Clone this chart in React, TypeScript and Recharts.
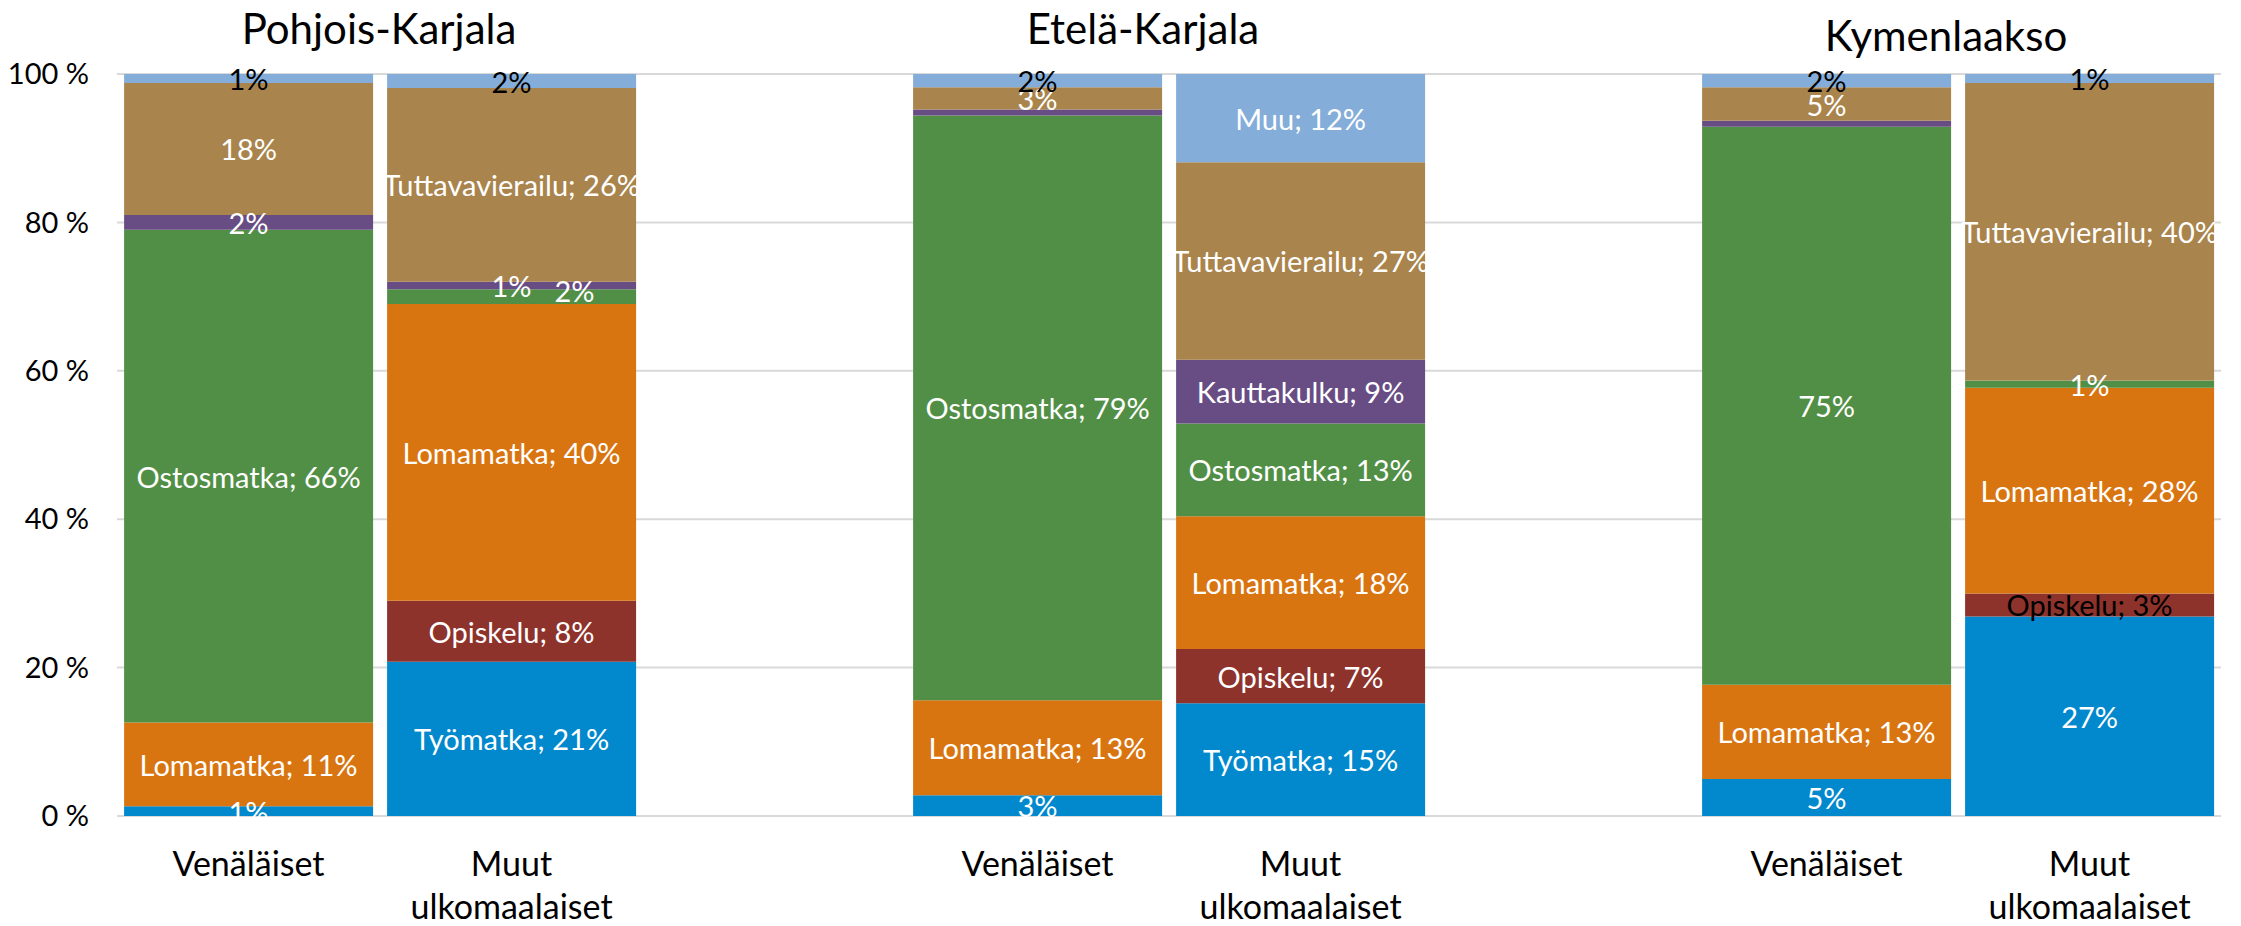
import { BarChart, Bar, XAxis, YAxis, CartesianGrid, LabelList } from 'recharts';

// category slots: two bars per region, an empty slot between regions
const categories = [
  'Venäläiset', 'Muut ulkomaalaiset', '',
  'Venäläiset', 'Muut ulkomaalaiset', '',
  'Venäläiset', 'Muut ulkomaalaiset',
];
const regions = ['Pohjois-Karjala', 'Etelä-Karjala', 'Kymenlaakso'];

const seriesNames = ['Työmatka', 'Opiskelu', 'Lomamatka', 'Ostosmatka', 'Kauttakulku', 'Tuttavavierailu', 'Muu'];

// shares in %
const tyomatka = [1.3, 20.8, 0, 2.8, 15.2, 0, 5.0, 26.9];
const opiskelu = [0, 8.2, 0, 0, 7.3, 0, 0, 3.1];
const lomamatka = [11.3, 40.0, 0, 12.8, 17.9, 0, 12.7, 27.7];
const ostosmatka = [66.4, 2.0, 0, 78.8, 12.5, 0, 75.2, 1.0];
const kauttakulku = [2.0, 1.0, 0, 0.8, 8.6, 0, 0.8, 0];
const tuttavavierailu = [17.8, 26.1, 0, 3.0, 26.6, 0, 4.5, 40.1];
const muu = [1.2, 1.9, 0, 1.8, 11.9, 0, 1.8, 1.2];

// label kind per cell: 'n' = name; value, 'v' = value only, '' = none
const tyomatkaLbl = ['v', 'n', '', 'v', 'n', '', 'v', 'v'];
const opiskeluLbl = ['', 'n', '', '', 'n', '', '', 'n'];
const lomamatkaLbl = ['n', 'n', '', 'n', 'n', '', 'n', 'n'];
const ostosmatkaLbl = ['n', 'v', '', 'n', 'n', '', 'v', 'v'];
const kauttakulkuLbl = ['v', 'v', '', '', 'n', '', '', ''];
const tuttavaLbl = ['v', 'n', '', 'v', 'n', '', 'v', 'n'];
const muuLbl = ['v', 'v', '', 'v', 'n', '', 'v', 'v'];

const yTicks = [0, 20, 40, 60, 80, 100];

const seriesValues = [tyomatka, opiskelu, lomamatka, ostosmatka, kauttakulku, tuttavavierailu, muu];
const seriesLabels = [tyomatkaLbl, opiskeluLbl, lomamatkaLbl, ostosmatkaLbl, kauttakulkuLbl, tuttavaLbl, muuLbl];
const colors = ['#0288CC', '#8E322C', '#D97511', '#528F46', '#684C84', '#A9844C', '#84ADD9'];
const keys = ['s0', 's1', 's2', 's3', 's4', 's5', 's6'];

const data = categories.map((name, i) => {
  const row: any = { name, idx: i };
  seriesValues.forEach((vals, s) => { row[keys[s]] = vals[i]; });
  return row;
});

const FONT = 'Lato, "Open Sans", sans-serif';

const isDark = (s: number, i: number) => (s === 6 && i !== 4) || (s === 1 && i === 7);
const labelShift: Record<string, [number, number]> = { '3-1': [63, -6] };

const makeLabel = (s: number) => (props: any) => {
  const { x, y, width, height, value } = props;
  const index = Number(value);
  const kind = seriesLabels[s][index];
  if (!kind) return null;
  const v = Math.round(seriesValues[s][index]);
  const text = kind === 'n' ? `${seriesNames[s]}; ${v}%` : `${v}%`;
  const [dx, dy] = labelShift[`${s}-${index}`] ?? [0, 0];
  return (
    <text
      x={Number(x) + Number(width) / 2 + dx}
      y={Number(y) + Number(height) / 2 + dy}
      textAnchor="middle"
      dominantBaseline="central"
      fill={isDark(s, index) ? '#000000' : '#ffffff'}
      fontSize={29}
      fontFamily={FONT}
    >
      {text}
    </text>
  );
};

const CategoryTick = (props: any) => {
  const { x, y, payload } = props;
  const value: string = payload.value || '';
  if (!value) return null;
  const lines = value.startsWith('Muut') ? ['Muut', 'ulkomaalaiset'] : [value];
  return (
    <text x={x} y={y} textAnchor="middle" fontSize={34} fontFamily={FONT} fill="#000000">
      {lines.map((l, i) => (
        <tspan key={i} x={x} dy={i === 0 ? 52 : 43}>{l}</tspan>
      ))}
    </text>
  );
};

const titlePos = [
  { x: 379, y: 44 },
  { x: 1143, y: 44 },
  { x: 1946, y: 51 },
];

export default function App() {
  return (
    <div style={{ position: 'absolute', left: 0, top: 0, width: 2241, height: 926, background: '#fff' }}>
      <BarChart
        width={2241}
        height={926}
        data={data}
        margin={{ top: 74, right: 20, bottom: 0, left: 0 }}
        barCategoryGap="2.7%"
      >
        <CartesianGrid horizontal vertical={false} stroke="#D9D9D9" strokeWidth={2} />
        <XAxis
          dataKey="name"
          axisLine={false}
          tickLine={false}
          height={110}
          interval={0}
          tick={<CategoryTick />}
        />
        <YAxis
          type="number"
          domain={[0, 100]}
          ticks={yTicks}
          width={117}
          axisLine={false}
          tickLine={false}
          tickMargin={22}
          tickFormatter={(v: number) => `${v} %`}
          tick={{ fill: '#000000', fontSize: 29, fontFamily: FONT }}
        />
        {keys.map((k, s) => (
          <Bar key={k} dataKey={k} stackId="a" fill={colors[s]} isAnimationActive={false}>
            <LabelList dataKey="idx" content={makeLabel(s)} />
          </Bar>
        ))}
      </BarChart>
      <svg width={2241} height={926} style={{ position: 'absolute', left: 0, top: 0, pointerEvents: 'none' }}>
        {regions.map((r, i) => (
          <text key={r} x={titlePos[i].x} y={titlePos[i].y} textAnchor="middle" fontSize={42} fontFamily={FONT} fill="#000000">
            {r}
          </text>
        ))}
      </svg>
    </div>
  );
}
